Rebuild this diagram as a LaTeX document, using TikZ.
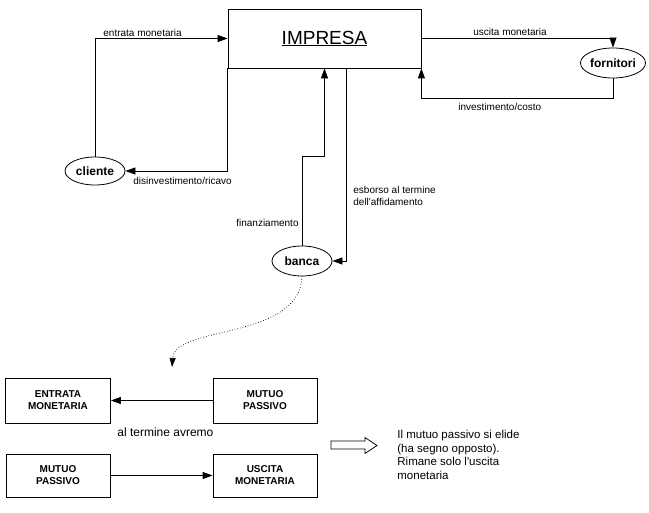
\documentclass[tikz,border=0pt]{standalone}
\usepackage{fontspec}
\setmainfont{Liberation Sans}
\usetikzlibrary{arrows.meta,shapes.geometric,calc}
\begin{document}
\begin{tikzpicture}[x=1pt,y=-1pt,
  line width=0.8pt,
  arr/.style={-{Triangle[length=10pt,width=7pt]}},
  ell/.style={draw,ellipse,inner sep=0pt,font=\fontsize{12}{14}\selectfont\bfseries},
  bbox/.style={draw,rectangle,inner sep=0pt,align=center,font=\fontsize{10}{12}\selectfont\bfseries},
  lbl/.style={inner sep=0pt,font=\fontsize{10}{12}\selectfont}]
\useasboundingbox (0,0) rectangle (649,513);
% main nodes
\node[draw,rectangle,minimum width=193pt,minimum height=59pt,inner sep=0pt,
  font=\fontsize{19}{22}\selectfont] (impresa) at (324.5,38.5) {\underline{IMPRESA}};
\node[ell,minimum width=60pt,minimum height=28pt] (cliente) at (95,171) {cliente};
\node[ell,minimum width=60pt,minimum height=30pt] (fornitori) at (613,63) {fornitori};
\node[ell,minimum width=60pt,minimum height=30pt] (banca) at (302,261) {banca};
% connectors
\draw[arr] (cliente.north) |- (impresa.west);
\draw[arr] (impresa.south west) |- (cliente.east);
\draw[arr] (impresa.east) -| (fornitori.north);
\draw[arr] (fornitori.south) -- ++(0,20) -| (impresa.south east);
\draw[arr] (banca.north) -- ++(0,-89) -| (impresa.south);
\draw[arr] ([xshift=21.5pt]impresa.south) |- (banca.east);
\coordinate (dotend) at (172,367);
\draw[dotted,line width=0.7pt,-{Triangle[length=9pt,width=6pt]}] (banca.south) .. controls (300,340) and (175,325) .. (dotend);
% labels
\node[lbl,anchor=base west] (l1) at (103,36.5) {entrata monetaria};
\node[lbl,anchor=base west] (l2) at (133,185) {disinvestimento/ricavo};
\node[lbl,anchor=base west] (l3) at (473,36) {uscita monetaria};
\node[lbl,anchor=base west] (l4) at (458,111) {investimento/costo};
\node[lbl,anchor=north west,align=left,font=\fontsize{10}{12}\selectfont] (l5) at (353,186) {esborso al termine\\dell\textquotesingle affidamento};
\node[lbl,anchor=base east] (l6) at (299,227) {finanziamento};
% bottom part
\node[bbox,minimum width=105pt,minimum height=45pt] (ent) at (58,400.5) {ENTRATA\\MONETARIA};
\node[bbox,minimum width=104pt,minimum height=45pt] (mp1) at (265,400.5) {MUTUO\\PASSIVO};
\node[bbox,minimum width=104pt,minimum height=43pt] (mp2) at (58,475.5) {MUTUO\\PASSIVO};
\node[bbox,minimum width=104pt,minimum height=43pt] (usc) at (265,475.5) {USCITA\\MONETARIA};
\draw[arr] (mp1.west) -- (ent.east);
\draw[arr] (mp2.east) -- (usc.west);
\node[lbl,anchor=base west,font=\fontsize{12}{14}\selectfont] (l7) at (117,437) {al termine avremo};
% hollow arrow
\draw[line width=0.7pt] (331,441) -- (365,441) -- (365,437.5) -- (377,445.5) -- (365,453.5) -- (365,449) -- (331,449) -- cycle;
\node[lbl,anchor=north west,align=left,font=\fontsize{11.5}{13.5}\selectfont] (l8) at (397,430)
  {Il mutuo passivo si elide\\(ha segno opposto).\\Rimane solo l\textquotesingle uscita\\monetaria};
\end{tikzpicture}
\end{document}
